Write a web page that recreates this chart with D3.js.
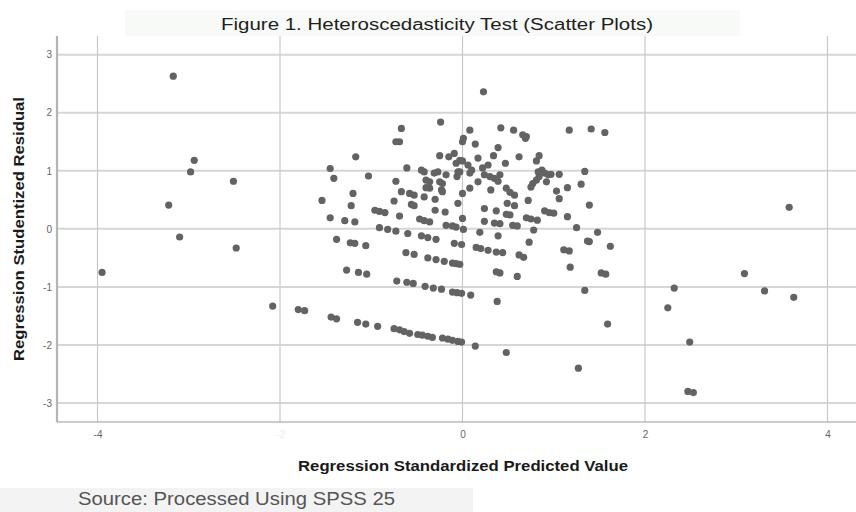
<!DOCTYPE html>
<html>
<head>
<meta charset="utf-8">
<script src="https://cdn.jsdelivr.net/npm/d3@7"></script>
<style>
  body { margin: 0; background: #fff; }
  svg { display: block; font-family: "Liberation Sans", Arial, sans-serif; }
</style>
</head>
<body>
<svg id="chart" width="856" height="512"></svg>
<script>
// regression standardized predicted value (x) / studentized residual (y)
const predicted = [
  // left outliers
  -3.17, -3.22, -3.10, -2.98, -2.94, -2.51, -2.48, -3.95, -2.08,
  // right / lower outliers
  3.09, 3.31, 3.63, 2.32, 2.25, 2.49, 2.47, 2.53, 1.59, 1.27, 1.34,
  0.48, 0.14, 0.38, 1.18, 1.52, 1.57, 0.60, 0.37, 0.41, 3.58, 0.23,
  // lowest band
  -1.80, -1.73, -1.44, -1.38, -1.15, -1.06, -0.93, -0.75, -0.69, -0.64,
  -0.58, -0.49, -0.44, -0.38, -0.33, -0.22, -0.16, -0.11, -0.05, -0.01,
  // second band
  -1.27, -1.14, -1.05, -0.72, -0.61, -0.54, -0.41, -0.32, -0.23, -0.11, -0.06, -0.01, 0.09,
  // third band
  -1.38, -1.23, -1.18, -1.06, -0.62, -0.53, -0.38, -0.29, -0.20, -0.11,
  -0.03, -0.07, 0.15, 0.20, 0.28, 0.37, 0.44, 0.62, 0.67, 1.11,
  1.17, 1.62, 1.37, 1.39, 1.48, 1.25, 0.73, 0.78, 0.39, 0.19,
  0.01, -0.07, -0.09, -0.01, 0.35, 0.41, 0.55, 0.60, 0.24,
  // around zero
  -0.91, -0.82, -0.73, -0.60, -0.45, -0.38, -0.29, -0.18, -0.11, -1.45, -1.29, -1.18, -0.47, -0.42, -0.36,
  // upper left cloud
  -0.24, -0.67, -0.73, -0.69, -1.17, -1.45, -1.41, -1.03, -0.61, -0.73,
  -1.54, -1.20, -1.22, -0.96, -0.91, -0.85, -0.75, -0.69, -0.67, -0.58,
  -0.53, -0.56, -0.53, -0.42, -0.30, -0.30, -0.19, -0.45, -0.42, -0.40,
  -0.36, -0.40, -0.36, -0.31, -0.27, -0.25, -0.22, -0.23, -0.22, -0.18,
  -0.25, -0.15, -0.09, -0.06, -0.05, -0.05, 0.00, 0.00, -0.07, -0.03,
  // upper right cloud
  0.08, 0.01, 0.14, 0.42, 0.56, 0.66, 0.69, 0.70, 1.17, 1.41,
  1.56, 0.39, 0.34, 0.17, 0.62, 0.47, 0.84, 0.81, 0.00, 0.06,
  0.10, 0.08, 0.22, 0.28, -0.03, 0.17, 0.24, 0.30, 0.35, 0.41,
  0.39, 0.08, 0.31, 0.48, 0.52, 0.57, 0.49, 0.57, 0.72, 0.24,
  0.37, 0.48, 0.52, 0.70, 0.75, 0.82, 0.90, 0.95, 1.00, 1.15,
  1.39, 1.30, 1.34, 1.15, 1.03, 1.06, 1.06, 0.83, 0.87, 0.90,
  0.94, 0.84, 0.81, 0.77, 0.75, 0.92, 0.97, 0.00
];

const residual = [
  2.63, 0.41, -0.14, 0.98, 1.18, 0.82, -0.33, -0.75, -1.33,
  -0.77, -1.07, -1.18, -1.02, -1.36, -1.95, -2.80, -2.82, -1.64, -2.40, -1.06,
  -2.13, -2.02, -1.25, -0.66, -0.76, -0.78, -0.82, -0.74, -0.76, 0.37, 2.36,
  -1.39, -1.41, -1.52, -1.55, -1.61, -1.64, -1.68, -1.72, -1.74, -1.77,
  -1.80, -1.82, -1.83, -1.85, -1.87, -1.88, -1.90, -1.92, -1.94, -1.95,
  -0.71, -0.75, -0.78, -0.90, -0.92, -0.94, -0.99, -1.02, -1.04, -1.09, -1.10, -1.11, -1.14,
  -0.18, -0.24, -0.25, -0.29, -0.41, -0.44, -0.50, -0.53, -0.56, -0.59,
  -0.61, -0.60, -0.32, -0.34, -0.37, -0.40, -0.41, -0.45, -0.49, -0.36,
  -0.38, -0.30, -0.21, -0.22, -0.06, 0.02, -0.23, -0.02, -0.12, -0.06,
  -0.01, 0.03, -0.25, -0.27, 0.10, 0.09, 0.06, 0.05, 0.13,
  0.02, -0.01, -0.04, -0.08, -0.12, -0.15, -0.18, 0.06, 0.05, 0.19, 0.14, 0.12, 0.17, 0.14, 0.12,
  1.84, 1.73, 1.50, 1.50, 1.24, 1.04, 0.87, 0.91, 1.05, 0.82,
  0.49, 0.61, 0.40, 0.32, 0.30, 0.28, 0.48, 0.22, 0.64, 0.61,
  0.58, 0.42, 0.40, 0.55, 0.51, 0.32, 0.29, 1.01, 0.98, 0.84,
  0.81, 0.71, 0.70, 0.96, 0.98, 0.81, 0.78, 0.67, 0.64, 0.93,
  1.26, 1.24, 1.30, 0.90, 0.98, 0.44, 1.50, 0.61, 1.13, 1.18,
  1.70, 1.56, 1.46, 1.74, 1.70, 1.62, 1.56, 1.59, 1.70, 1.72,
  1.66, 1.40, 1.26, 1.22, 1.24, 1.13, 1.26, 1.17, 1.17, 1.10,
  1.01, 0.96, 1.05, 1.10, 0.98, 0.81, 0.93, 0.90, 0.87, 0.93,
  0.82, 0.70, 0.67, 0.70, 0.63, 0.58, 0.44, 0.40, 0.49, 0.35,
  0.31, 0.25, 0.24, 0.19, 0.17, 0.15, 0.31, 0.28, 0.27, 0.21,
  0.41, 0.77, 0.99, 0.71, 0.65, 0.52, 0.94, 0.98, 1.01, 0.96,
  0.93, 0.90, 0.84, 0.78, 0.72, 0.81, 0.94, 0.18
];

const xTicks = [-4, -2, 0, 2, 4];
const yTicks = [-3, -2, -1, 0, 1, 2, 3];

if (predicted.length !== residual.length) console.warn('length mismatch', predicted.length, residual.length);
const points = predicted.map((d, i) => ({ x: d, y: residual[i] }));

const svg = d3.select('#chart');

// plot frame
const plotLeft = 57, plotRight = 856, plotTop = 36, plotBottom = 422;

const x = d3.scaleLinear().domain([-4, 4]).range([97.5, 827.5]);
const y = d3.scaleLinear().domain([-3, 3]).range([403, 54.7]);

// plain hyphen like SPSS, not the unicode minus d3.format gives
const tickFmt = d => String(d);

// title band
svg.append('rect')
  .attr('x', 125).attr('y', 10).attr('width', 615).attr('height', 26)
  .attr('fill', '#f8faf7');
svg.append('text')
  .attr('x', 437).attr('y', 30)
  .attr('text-anchor', 'middle')
  .attr('font-size', 16)
  .attr('fill', '#1e1e1e')
  .attr('textLength', 432).attr('lengthAdjust', 'spacingAndGlyphs')
  .text('Figure 1. Heteroscedasticity Test (Scatter Plots)');

// gridlines
svg.append('g').selectAll('line')
  .data(yTicks).enter().append('line')
  .attr('x1', plotLeft).attr('x2', plotRight)
  .attr('y1', d => y(d)).attr('y2', d => y(d))
  .attr('stroke', '#d6d6d6').attr('stroke-width', 2);

svg.append('g').selectAll('line')
  .data(xTicks).enter().append('line')
  .attr('x1', d => x(d)).attr('x2', d => x(d))
  .attr('y1', plotTop).attr('y2', plotBottom)
  .attr('stroke', '#c8c8c8').attr('stroke-width', 1.2);

// axes (labels only, lines drawn by hand below)
const yAxis = svg.append('g')
  .attr('transform', 'translate(' + plotLeft + ',0)')
  .call(d3.axisLeft(y).tickValues(yTicks).tickSize(0).tickPadding(5).tickFormat(tickFmt));
yAxis.select('.domain').remove();
yAxis.selectAll('text').attr('font-size', 10).attr('fill', '#666').attr('font-family', '"Liberation Sans", Arial, sans-serif');

const xAxis = svg.append('g')
  .attr('transform', 'translate(0,' + plotBottom + ')')
  .call(d3.axisBottom(x).tickValues(xTicks).tickSize(0).tickPadding(9).tickFormat(tickFmt));
xAxis.select('.domain').remove();
xAxis.selectAll('text').attr('font-size', 10).attr('font-family', '"Liberation Sans", Arial, sans-serif')
  .attr('fill', d => d === -2 ? '#ececec' : '#666');

svg.append('line')
  .attr('x1', plotLeft).attr('x2', plotLeft).attr('y1', plotTop).attr('y2', plotBottom)
  .attr('stroke', '#b4b4b4').attr('stroke-width', 2.2);
svg.append('line')
  .attr('x1', plotLeft).attr('x2', plotRight).attr('y1', plotBottom).attr('y2', plotBottom)
  .attr('stroke', '#9a9a9a').attr('stroke-width', 1.2);

// points
svg.append('g').selectAll('circle')
  .data(points).enter().append('circle')
  .attr('cx', d => x(d.x))
  .attr('cy', d => y(d.y))
  .attr('r', 3.6)
  .attr('fill', '#636363');

// axis titles
svg.append('text')
  .attr('x', 463).attr('y', 471)
  .attr('text-anchor', 'middle')
  .attr('font-size', 14).attr('font-weight', 'bold').attr('fill', '#1a1a1a')
  .attr('textLength', 330).attr('lengthAdjust', 'spacingAndGlyphs')
  .text('Regression Standardized Predicted Value');

svg.append('text')
  .attr('transform', 'translate(24,229) rotate(-90)')
  .attr('text-anchor', 'middle')
  .attr('font-size', 14).attr('font-weight', 'bold').attr('fill', '#1a1a1a')
  .attr('textLength', 264).attr('lengthAdjust', 'spacingAndGlyphs')
  .text('Regression Studentized Residual');

// source note
svg.append('rect')
  .attr('x', 0).attr('y', 488).attr('width', 473).attr('height', 24)
  .attr('fill', '#f3f3f3');
svg.append('text')
  .attr('x', 78).attr('y', 505)
  .attr('font-size', 18).attr('fill', '#555')
  .attr('textLength', 317).attr('lengthAdjust', 'spacingAndGlyphs')
  .text('Source: Processed Using SPSS 25');
</script>
</body>
</html>
